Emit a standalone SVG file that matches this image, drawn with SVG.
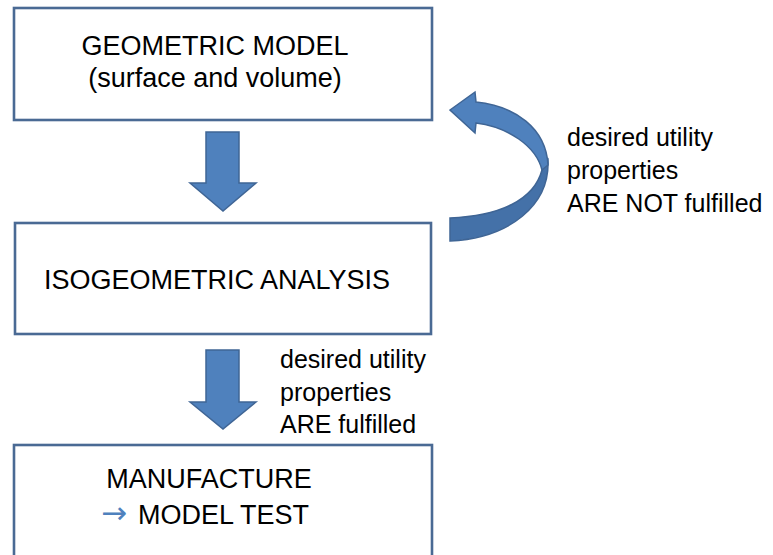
<svg xmlns="http://www.w3.org/2000/svg" width="773" height="555" viewBox="0 0 773 555">
<style>
.box{fill:#ffffff;stroke:#4a6a94;stroke-width:2.6}
.t{font-family:"Liberation Sans",Arial,sans-serif;font-size:27px;fill:#000}
.lbl{font-family:"Liberation Sans",Arial,sans-serif;font-size:25px;fill:#000}
.arr{fill:#4f81bd;stroke:#3f6595;stroke-width:1.5;stroke-linejoin:miter}
.arrd{fill:#4471a8;stroke:#3f6595;stroke-width:1.5}
</style>
<rect width="773" height="555" fill="#ffffff"/>
<g id="geometric-model">
<rect class="box" x="14" y="8" width="418" height="112"/>
<text class="t" x="215" y="55" text-anchor="middle">GEOMETRIC MODEL</text>
<text class="t" x="215" y="87" text-anchor="middle">(surface and volume)</text>
</g>
<g id="isogeometric-analysis">
<rect class="box" x="15" y="223" width="416" height="111"/>
<text class="t" x="217" y="289" text-anchor="middle">ISOGEOMETRIC ANALYSIS</text>
</g>
<g id="manufacture">
<rect class="box" x="14" y="445" width="418" height="130"/>
<text class="t" x="209" y="488" text-anchor="middle">MANUFACTURE</text>
<text x="101" y="523" font-family="'DejaVu Sans',sans-serif" font-size="30" fill="#4f81bd" textLength="26" lengthAdjust="spacingAndGlyphs">→</text>
<text class="t" x="138" y="524">MODEL TEST</text>
</g>
<g id="connectors">
<path class="arr" d="M206,132 L239,132 L239,183 L256,183 L223,211 L190,183 L206,183 Z"/>
<path class="arr" d="M206,350 L239,350 L239,402 L256,402 L223,429 L190,402 L206,402 Z"/>
<path class="arrd" d="M548,160 C550,205 510,238 450,241 L450,218 C500,216 534,200 542,170 Z"/>
<path class="arr" d="M450,110 L475,92 L476,102 C515,106 546,128 548,165 L542,170 C536,146 508,127 476,123 L475,133 Z"/>
<text class="lbl" x="567" y="146">desired utility</text>
<text class="lbl" x="567" y="179">properties</text>
<text class="lbl" x="567" y="212">ARE NOT fulfilled</text>
<text class="lbl" x="280" y="368">desired utility</text>
<text class="lbl" x="280" y="401">properties</text>
<text class="lbl" x="280" y="433">ARE fulfilled</text>
</g>
</svg>
